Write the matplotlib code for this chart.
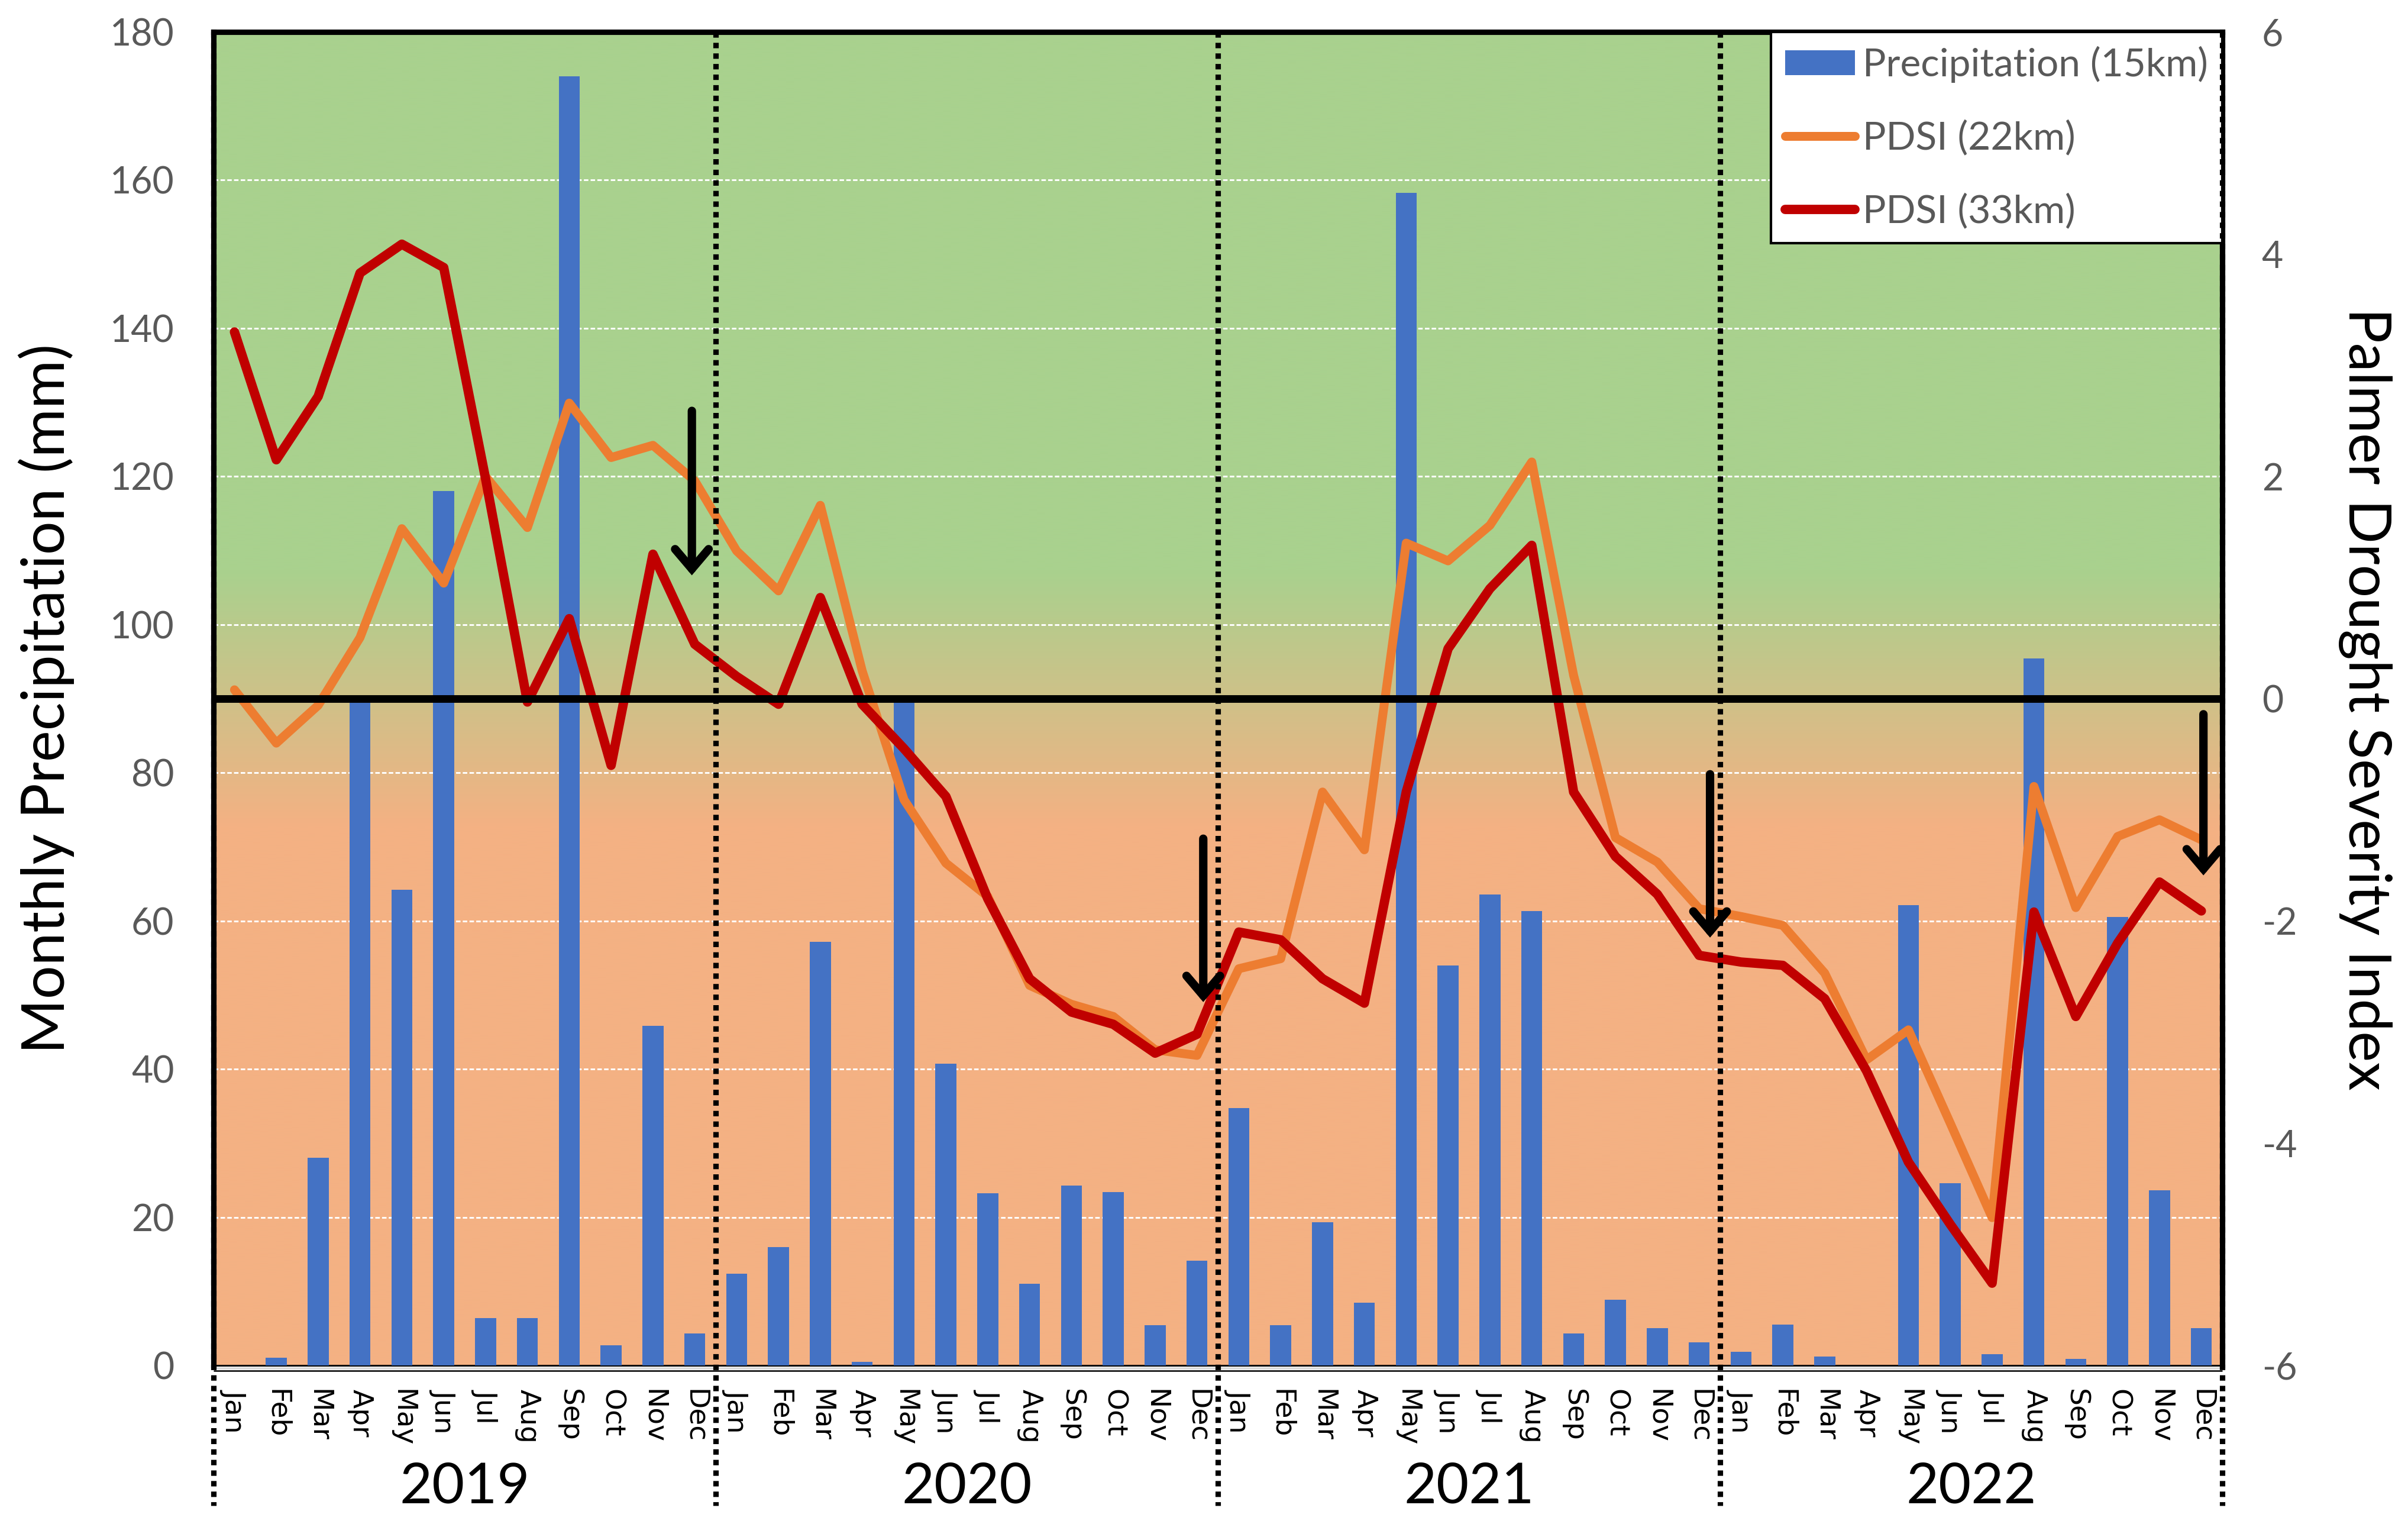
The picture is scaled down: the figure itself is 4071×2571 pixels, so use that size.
import numpy as np
import matplotlib
matplotlib.use("Agg")
import matplotlib.pyplot as plt
import matplotlib.transforms as mtransforms
from matplotlib.colors import to_rgb

# ---------------- data ----------------
months = ['Jan', 'Feb', 'Mar', 'Apr', 'May', 'Jun',
          'Jul', 'Aug', 'Sep', 'Oct', 'Nov', 'Dec']
years = ['2019', '2020', '2021', '2022']

precip_15km = [
    0, 1, 28, 90.3, 64.2, 118, 6.4, 6.4, 174, 2.7, 45.8, 4.3,
    12.4, 16, 57.2, 0.5, 90, 40.7, 23.2, 11, 24.3, 23.4, 5.4, 14.1,
    34.7, 5.4, 19.3, 8.5, 158.3, 54, 63.6, 61.3, 4.3, 8.9, 5, 3.1,
    1.8, 5.5, 1.2, 0, 62.1, 24.6, 1.5, 95.4, 0.9, 60.5, 23.6, 5,
]
pdsi_22km = [
    0.08, -0.40, -0.06, 0.55, 1.53, 1.04, 2.00, 1.54, 2.66, 2.17, 2.28, 1.96,
    1.33, 0.97, 1.74, 0.25, -0.91, -1.48, -1.78, -2.58, -2.75, -2.86, -3.16, -3.21,
    -2.43, -2.34, -0.84, -1.36, 1.40, 1.24, 1.56, 2.13, 0.21, -1.25, -1.47, -1.89,
    -1.96, -2.04, -2.47, -3.25, -2.98, -3.82, -4.67, -0.79, -1.88, -1.24, -1.09, -1.27,
]
pdsi_33km = [
    3.30, 2.15, 2.72, 3.83, 4.09, 3.88, 1.98, -0.03, 0.72, -0.60, 1.30, 0.49,
    0.20, -0.05, 0.91, -0.05, -0.45, -0.88, -1.80, -2.52, -2.82, -2.93, -3.19, -3.02,
    -2.10, -2.17, -2.52, -2.74, -0.84, 0.45, 0.99, 1.38, -0.84, -1.42, -1.76, -2.31,
    -2.37, -2.40, -2.70, -3.35, -4.17, -4.73, -5.26, -1.92, -2.86, -2.20, -1.65, -1.91,
]
# annotation arrows (month index, PDSI tail, PDSI tip)
arrow_month = [10.93, 23.15, 35.26, 47.05]
arrow_tail = [2.59, -1.26, -0.68, -0.14]
arrow_tip = [1.11, -2.73, -2.15, -1.59]

left_ticks = list(range(0, 181, 20))
right_ticks = list(range(-6, 7, 2))

# ---------------- style ----------------
plt.rcParams['font.family'] = ['Lato', 'DejaVu Sans']
plt.rcParams['axes.unicode_minus'] = False

BLUE = '#4472C4'
ORANGE = '#ED7D31'
RED = '#C00000'
GREEN_BG = '#A9D18E'
ORANGE_BG = '#F4B183'
GREY_TXT = '#595959'
TICK_FS = 15
LEG_FS = 15.8

fig = plt.figure(figsize=(4071 / 300, 2571 / 300), dpi=300)
ax = fig.add_axes([0.08868, 0.10229, 0.83419, 0.87671])
ax2 = ax.twinx()

n = len(precip_15km)
x = np.arange(n)
ax.set_xlim(-0.5, n - 0.5)
ax.set_ylim(0, 180)
ax2.set_ylim(-6, 6)

# gradient background (green wet -> orange dry), defined along the PDSI scale
rows = 900
pd_vals = np.linspace(-6, 6, rows)
t = np.clip((pd_vals + 1.15) / 2.3, 0, 1)[:, None]
g = np.array(to_rgb(GREEN_BG))
o = np.array(to_rgb(ORANGE_BG))
img = (o + t * (g - o))[:, None, :]
ax.imshow(img, extent=[-0.5, n - 0.5, 0, 180], origin='lower',
          aspect='auto', zorder=0, interpolation='bilinear')

# grid
ax.set_axisbelow(True)
ax.set_yticks(left_ticks)
for v in left_ticks[1:-1]:
    ax.axhline(v, color='white', lw=0.7, ls=(0, (2.6, 1.3)), zorder=0.5)

# bars
bars = ax.bar(x, precip_15km, width=0.5, color=BLUE, zorder=2,
              label='Precipitation (15km)')

# lines
l22, = ax2.plot(x, pdsi_22km, color=ORANGE, lw=3.6, solid_joinstyle='round',
                solid_capstyle='round', zorder=3, label='PDSI (22km)')
l33, = ax2.plot(x, pdsi_33km, color=RED, lw=3.8, solid_joinstyle='round',
                solid_capstyle='round', zorder=3.1, label='PDSI (33km)')

# zero line
ax2.axhline(0, color='black', lw=3.1, zorder=5)

# arrows
for xm, ta, tp in zip(arrow_month, arrow_tail, arrow_tip):
    ax2.annotate('', xy=(xm, tp), xytext=(xm, ta),
                 arrowprops=dict(arrowstyle='->,head_length=0.4,head_width=0.34',
                                 lw=3.4, color='black', shrinkA=0, shrinkB=0,
                                 mutation_scale=20, joinstyle='miter'),
                 zorder=8)

# spines
for a in (ax, ax2):
    for s in a.spines.values():
        s.set_visible(False)
for side in ('left', 'top', 'right'):
    ax.spines[side].set_visible(True)
    ax.spines[side].set_linewidth(2.2)
    ax.spines[side].set_color('black')
    ax.spines[side].set_zorder(6)

# bottom axis lines (black / grey band / black)
ax.plot([0, 1], [0, 0], transform=ax.transAxes, color='black', lw=0.7,
        zorder=1.5, clip_on=False, solid_capstyle='butt')
tr_g = mtransforms.offset_copy(ax.transAxes, fig=fig, x=0, y=-4.5, units='dots')
ax.plot([0, 1], [0, 0], transform=tr_g, color='#D9D9D9', lw=0.85,
        zorder=6, clip_on=False, solid_capstyle='butt')
tr_b = mtransforms.offset_copy(ax.transAxes, fig=fig, x=0, y=-8.5, units='dots')
ax.plot([0, 1], [0, 0], transform=tr_b, color='black', lw=0.6,
        zorder=6, clip_on=False, solid_capstyle='butt')

# year dividers (dotted, extending below the axis)
blend = mtransforms.blended_transform_factory(ax2.transData, ax2.transAxes)
for xb in np.arange(-0.5, n, 12):
    ax2.plot([xb, xb], [1.0, -0.105], transform=blend, color='black', lw=2.2,
             ls=(0, (1, 0.95)), clip_on=False, zorder=9)

# x tick labels (months) and year labels
ax.set_xticks(x)
ax.set_xticklabels(months * len(years), rotation=270, fontfamily='DejaVu Sans',
                   fontsize=11.3, color='black')
ax.tick_params(axis='x', length=0, pad=9.6)
blend_ax = mtransforms.blended_transform_factory(ax.transData, ax.transAxes)
for k, yr in enumerate(years):
    ax.text(12 * k + 5.5, -0.091, yr, transform=blend_ax, ha='center',
            va='center', fontsize=22.8, color='black')

# y ticks
ax.tick_params(axis='y', length=0, pad=16, labelsize=TICK_FS, labelcolor=GREY_TXT)
ax2.set_yticks(right_ticks)
ax2.tick_params(axis='y', length=0, pad=16, labelsize=TICK_FS, labelcolor=GREY_TXT)
ax2.tick_params(axis='x', length=0)

ax.set_ylabel('Monthly Precipitation (mm)', fontsize=24, color='black',
              va='center')
ax.yaxis.set_label_coords(-0.0833, 0.5)
ax2.set_ylabel('Palmer Drought Severity Index', fontsize=23.5, color='black',
               rotation=270, va='center')
ax2.yaxis.set_label_coords(1.071, 0.5)

# legend
leg = ax2.legend(handles=[bars, l22, l33], loc='upper right',
                 bbox_to_anchor=(1, 1), borderaxespad=0, fontsize=LEG_FS,
                 frameon=True, fancybox=False, framealpha=1, edgecolor='black',
                 labelspacing=0.95, borderpad=0.36, handlelength=1.8,
                 handletextpad=0.2, handleheight=0.6, labelcolor=GREY_TXT)
leg.get_frame().set_linewidth(1.0)
leg.set_zorder(7)

fig.savefig('out.png', dpi=300)
